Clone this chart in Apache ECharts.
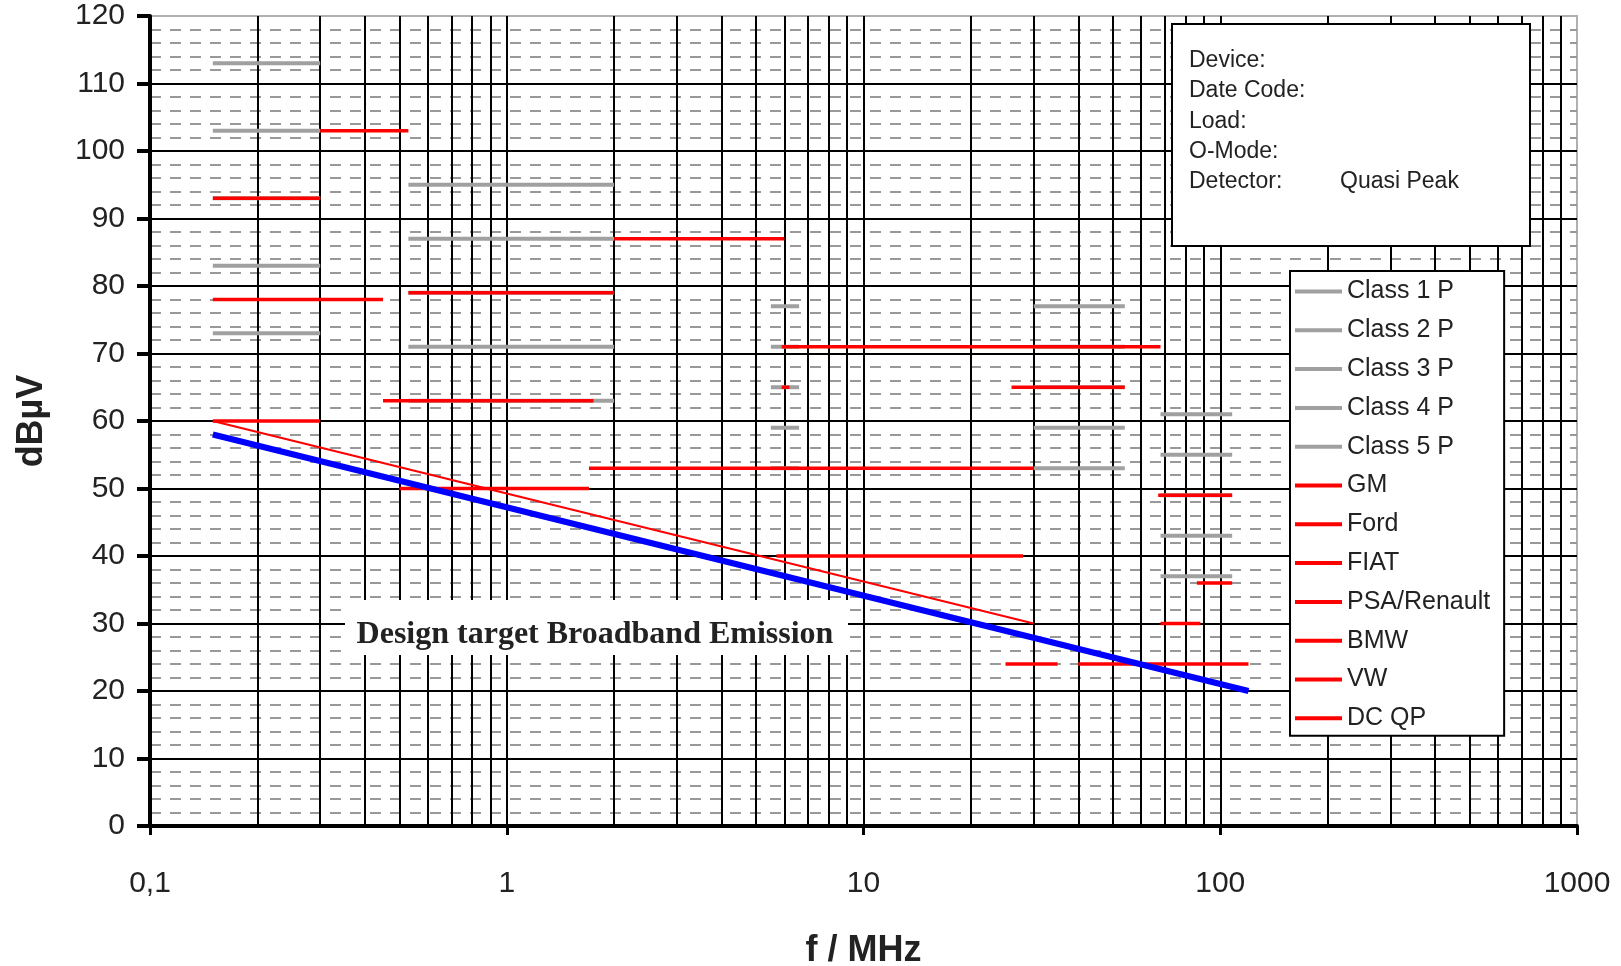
<!DOCTYPE html>
<html><head><meta charset="utf-8">
<script src="https://cdn.jsdelivr.net/npm/echarts@6/dist/echarts.min.js"></script>
<style>html,body{margin:0;padding:0;background:#fff}#c{width:1621px;height:966px}</style>
</head><body><div id="c"></div>
<script>
// ---- axis ticks ----
const xTickValues = [0.1, 1, 10, 100, 1000];
const xTickLabels = ['0,1', '1', '10', '100', '1000'];
const yMin = 0, yMax = 120, yStep = 10;

// ---- limit lines: segments [[f1 MHz, dBµV], [f2 MHz, dBµV]] ----
const class1P = [[[0.15,113],[0.3,113]], [[0.53,95],[2,95]], [[5.5,77],[6.6,77]], [[30,77],[54,77]], [[68,61],[108,61]]];
const class2P = [[[0.15,103],[0.3,103]], [[0.53,87],[2,87]], [[5.5,71],[6.6,71]], [[30,71],[54,71]], [[68,55],[108,55]]];
const class3P = [[[0.15,93],[0.3,93]],   [[0.53,79],[2,79]], [[5.5,65],[6.6,65]], [[30,65],[54,65]], [[68,49],[108,49]]];
const class4P = [[[0.15,83],[0.3,83]],   [[0.53,71],[2,71]], [[5.5,59],[6.6,59]], [[30,59],[54,59]], [[68,43],[108,43]]];
const class5P = [[[0.15,73],[0.3,73]],   [[0.53,63],[2,63]], [[5.5,53],[6.6,53]], [[30,53],[54,53]], [[68,37],[108,37]]];

const gmSegs   = [[[0.15,93],[0.3,93]], [[0.53,79],[2,79]], [[5.9,71],[68,71]], [[67,49],[108,49]]];
const fordSegs = [[[0.3,103],[0.53,103]], [[2,87],[6,87]], [[86,36],[108,36]]];
const fiatSegs = [[[0.15,78],[0.45,78]], [[0.45,63],[1.75,63]], [[5.9,65],[6.2,65]], [[26,65],[54,65]]];
const psaSegs  = [[[0.5,50],[1.7,50]], [[5.7,40],[28,40]], [[68,30],[88,30]]];
const bmwSegs  = [[[1.7,53],[30,53]]];
const vwSegs   = [[[0.15,60],[0.3,60]]];
const vwSlope  = [[[0.15,60],[30,30]]];
const dcqpSegs = [[[25,24],[35,24]], [[40,24],[120,24]]];

const designTarget = [[0.15,58],[120,20]];

const legendNames = ['Class 1 P','Class 2 P','Class 3 P','Class 4 P','Class 5 P','GM','Ford','FIAT','PSA/Renault','BMW','VW','DC QP'];
const infoLabels = ['Device:','Date Code:','Load:','O-Mode:','Detector:'];
const infoValues = ['','','','','Quasi Peak'];
const annotation = 'Design target Broadband Emission';

// ---- build ----
const FONT = 'Liberation Sans, Arial, sans-serif';
function segData(segs){
  const d = [];
  segs.forEach(s => { d.push(s[0], s[1], [s[1][0], '-']); });
  return d;
}
function lineSeries(name, segs, color, width, z){
  return {type:'line', name, data:segData(segs), symbol:'none', showSymbol:false,
    connectNulls:false, silent:true, animation:false, z:z||2,
    lineStyle:{color, width, cap:'butt'}, itemStyle:{color}, emphasis:{disabled:true}};
}
const GRAY = '#a0a0a0', RED = '#ff0000';
const series = [
  lineSeries('Class 1 P', class1P, GRAY, 4),
  lineSeries('Class 2 P', class2P, GRAY, 4),
  lineSeries('Class 3 P', class3P, GRAY, 4),
  lineSeries('Class 4 P', class4P, GRAY, 4),
  lineSeries('Class 5 P', class5P, GRAY, 4),
  lineSeries('GM', gmSegs, RED, 3.5, 3),
  lineSeries('Ford', fordSegs, RED, 3.5, 3),
  lineSeries('FIAT', fiatSegs, RED, 3.5, 3),
  lineSeries('PSA/Renault', psaSegs, RED, 3.5, 3),
  lineSeries('BMW', bmwSegs, RED, 3.5, 3),
  lineSeries('VW', vwSegs, RED, 3.5, 3),
  lineSeries('VW', vwSlope, RED, 2.2, 3),
  lineSeries('DC QP', dcqpSegs, RED, 3.5, 3),
  {type:'line', name:'Design target', data:designTarget, symbol:'none', showSymbol:false,
   silent:true, animation:false, z:4, lineStyle:{color:'#0000ff', width:6}, itemStyle:{color:'#0000ff'}}
];

const graphics = [
  {type:'rect', z:1, shape:{x:345, y:600, width:503, height:55}, style:{fill:'#fff'}},
  {type:'text', z:1, x:595, y:635, style:{text:annotation, fontSize:32, fontWeight:'bold',
    fontFamily:'Liberation Serif, Times New Roman, serif', fill:'#222', align:'center', verticalAlign:'middle'}},
  {type:'rect', z:10, shape:{x:1172, y:24, width:358, height:222}, style:{fill:'#fff', stroke:'#000', lineWidth:2}}
];
infoLabels.forEach((t,i) => {
  const y = 61 + 30.1 * i;
  graphics.push({type:'text', z:11, x:1189, y, style:{text:t, fontSize:23, fontFamily:FONT, fill:'#222', verticalAlign:'middle'}});
  if (infoValues[i]) graphics.push({type:'text', z:11, x:1340, y, style:{text:infoValues[i], fontSize:23, fontFamily:FONT, fill:'#222', verticalAlign:'middle'}});
});

const chart = echarts.init(document.getElementById('c'), null, {renderer:'canvas'});
chart.setOption({
  animation:false,
  backgroundColor:'#fff',
  grid:{left:150, right:44, top:16, bottom:140, show:true, borderColor:'#b0b0b0', borderWidth:2, backgroundColor:'#fff',
    containLabel:false, outerBoundsMode:'none'},
  legend:{data:legendNames, orient:'vertical', left:1290, top:271, padding:[8,14,5,5], itemGap:13.8,
    itemWidth:47, itemHeight:4, icon:'rect', selectedMode:false, backgroundColor:'#fff', borderColor:'#000', borderWidth:2,
    textStyle:{fontSize:25, color:'#222', fontFamily:FONT}, z:10},
  xAxis:{type:'log', logBase:10, min:xTickValues[0], max:xTickValues[xTickValues.length-1],
    name:'f / MHz', nameLocation:'middle', nameGap:107,
    nameTextStyle:{fontSize:36, fontWeight:'bold', color:'#222', fontFamily:FONT},
    axisLine:{show:true, lineStyle:{color:'#000', width:4}},
    axisTick:{show:true, length:9, lineStyle:{color:'#000', width:3}},
    axisLabel:{margin:43, fontSize:30, color:'#222', fontFamily:FONT,
      formatter:v => { const i = xTickValues.findIndex(t => Math.abs(t - v) < 1e-9 * Math.max(1, t)); return i >= 0 ? xTickLabels[i] : ''; }},
    splitLine:{show:true, showMinLine:false, showMaxLine:false, lineStyle:{color:'#000', width:2}},
    minorTick:{show:false, splitNumber:9},
    minorSplitLine:{show:true, lineStyle:{color:'#000', width:2}}
  },
  yAxis:{type:'value', min:yMin, max:yMax, interval:yStep,
    name:'dBµV', nameLocation:'middle', nameGap:100, nameRotate:90,
    nameTextStyle:{fontSize:36, fontWeight:'bold', color:'#222', fontFamily:FONT},
    axisLine:{show:true, lineStyle:{color:'#000', width:4}},
    axisTick:{show:true, length:13, lineStyle:{color:'#000', width:4}},
    axisLabel:{margin:25, fontSize:30, color:'#222', fontFamily:FONT, padding:[12,0,0,0]},
    splitLine:{show:true, showMinLine:false, showMaxLine:false, lineStyle:{color:'#000', width:2}},
    minorTick:{show:false, splitNumber:5},
    minorSplitLine:{show:true, lineStyle:{color:'#999', width:2, type:[11,9]}}
  },
  graphic:graphics,
  series
});
</script></body></html>
